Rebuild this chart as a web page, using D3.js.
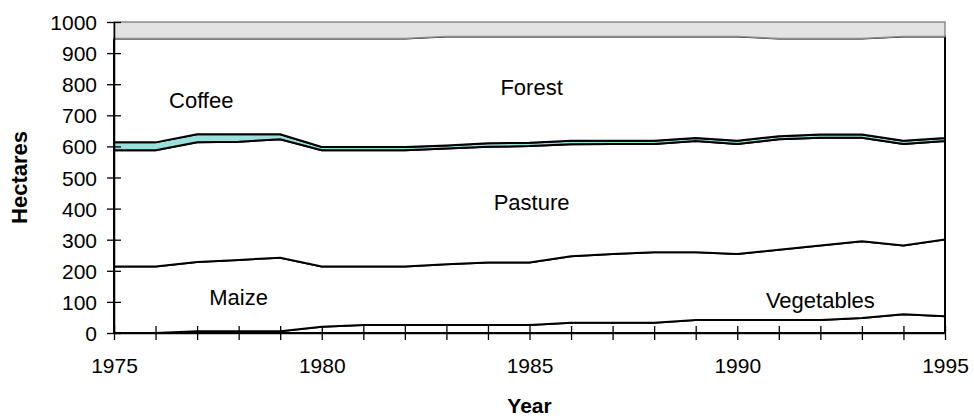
<!DOCTYPE html>
<html>
<head>
<meta charset="utf-8">
<script src="https://cdn.jsdelivr.net/npm/d3@7"></script>
<style>
  body { margin: 0; background: #fff; }
  text { font-family: Arial, "Liberation Sans", sans-serif; fill: #000; }
</style>
</head>
<body>
<svg id="chart"></svg>
<script>
// Data (hectares per land use, stacked bottom to top)
const years = d3.range(1975, 1996);
const vegetables = [0, 0, 6, 6, 6, 20, 26, 26, 26, 26, 26, 33, 33, 33, 42, 42, 42, 42, 48, 60, 54];
const maize = [214, 214, 222, 229, 236, 194, 188, 188, 195, 201, 201, 214, 221, 227, 218, 212, 226, 239, 247, 221, 247];
const pasture = [374, 374, 385, 380, 381, 374, 374, 374, 372, 372, 374, 360, 354, 348, 357, 354, 355, 347, 333, 327, 316];
const coffee = [25, 25, 26, 24, 16, 10, 10, 10, 10, 11, 11, 11, 10, 10, 10, 10, 10, 10, 10, 10, 10];
const forest = [334, 334, 308, 308, 308, 349, 349, 349, 350, 343, 341, 335, 335, 335, 326, 335, 314, 309, 309, 335, 326];
const other = [53, 53, 53, 53, 53, 53, 53, 53, 47, 47, 47, 47, 47, 47, 47, 47, 53, 53, 53, 47, 47];

const seriesNames = ["Vegetables", "Maize", "Pasture", "Coffee", "Forest", "Other"];
const seriesValues = [vegetables, maize, pasture, coffee, forest, other];
const yTicks = d3.range(0, 1001, 100);
const xLabelYears = [1975, 1980, 1985, 1990, 1995];

// label anchors: [name, year, value]
const labels = [
  ["Coffee", 1977.1, 725],
  ["Forest", 1985.05, 765],
  ["Pasture", 1985.05, 395],
  ["Maize", 1978.0, 90],
  ["Vegetables", 1992.0, 80]
];

const margin = { top: 22, right: 29, bottom: 85, left: 114 };
const width = 974 - margin.left - margin.right;
const height = 418 - margin.top - margin.bottom;

const svg = d3.select("#chart").attr("width", 974).attr("height", 418);
const g = svg.append("g").attr("transform", `translate(${margin.left},${margin.top})`);

const x = d3.scaleLinear().domain([1975, 1995]).range([0, width]);
const y = d3.scaleLinear().domain([0, 1000]).range([height, 0]);

const rows = years.map((yr, i) => {
  const r = { year: yr };
  seriesNames.forEach((n, k) => (r[n] = seriesValues[k][i]));
  return r;
});

const stack = d3.stack().keys(seriesNames);
const layers = stack(rows);

const fills = { Vegetables: "#ffffff", Maize: "#ffffff", Pasture: "#ffffff", Coffee: "#99dfdb", Forest: "#ffffff", Other: "#e3e3e3" };

const area = d3.area()
  .x((d) => x(d.data.year))
  .y0((d) => y(d[0]))
  .y1((d) => y(d[1]));

g.selectAll(".layer")
  .data(layers)
  .enter()
  .append("path")
  .attr("class", "layer")
  .attr("d", area)
  .attr("fill", (d) => fills[d.key])
  .attr("stroke", (d) => (d.key === "Other" ? "#8c8c8c" : "#000"))
  .attr("stroke-width", (d) => (d.key === "Other" ? 1.5 : 2))
  .attr("stroke-linejoin", "miter");

// Series labels
g.selectAll(".lbl")
  .data(labels)
  .enter()
  .append("text")
  .attr("class", "lbl")
  .attr("x", (d) => x(d[1]))
  .attr("y", (d) => y(d[2]))
  .attr("text-anchor", "middle")
  .style("font-size", "22px")
  .text((d) => d[0]);

// Y axis with cross ticks
const yAxis = g.append("g")
  .call(d3.axisLeft(y).tickValues(yTicks).tickFormat(d3.format("d"))
    .tickSizeInner(7).tickSizeOuter(0).tickPadding(10));
yAxis.selectAll(".tick line").attr("x1", -7).attr("x2", 7).attr("stroke", "#000").attr("stroke-width", 1.3);
yAxis.select(".domain").attr("stroke", "#000").attr("stroke-width", 1.5);
yAxis.selectAll("text").style("font-size", "21px").attr("dy", "0.36em");

// X axis with cross ticks, labels every 5 years
const xAxis = g.append("g")
  .attr("transform", `translate(0,${height})`)
  .call(d3.axisBottom(x)
    .tickValues(years)
    .tickFormat((d) => (xLabelYears.includes(d) ? d : ""))
    .tickSizeInner(7).tickSizeOuter(0).tickPadding(18));
xAxis.selectAll(".tick line").attr("y1", -7).attr("y2", 7).attr("stroke", "#000").attr("stroke-width", 1.3);
xAxis.select(".domain").attr("stroke", "#000").attr("stroke-width", 1.5);
xAxis.selectAll("text").style("font-size", "21px");

// Axis titles
svg.append("text")
  .attr("x", margin.left + width / 2)
  .attr("y", 413)
  .attr("text-anchor", "middle")
  .style("font-size", "21px")
  .style("font-weight", "bold")
  .text("Year");

svg.append("text")
  .attr("transform", `translate(27,${margin.top + height / 2}) rotate(-90)`)
  .attr("text-anchor", "middle")
  .style("font-size", "22px")
  .style("font-weight", "bold")
  .text("Hectares");
</script>
</body>
</html>
